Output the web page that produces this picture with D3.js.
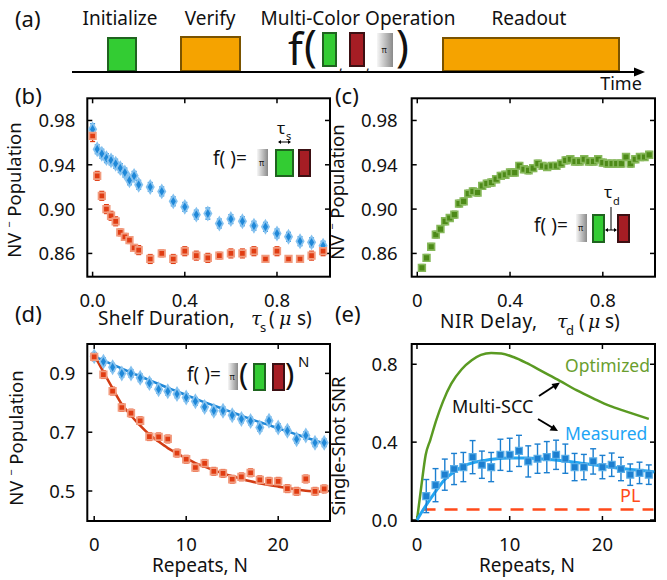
<!DOCTYPE html>
<html lang="en">
<head>
<meta charset="UTF-8">
<title>Multi-color SCC</title>
<script src="https://d3js.org/d3.v7.min.js"></script>
<style>
  body, html { margin: 0; padding: 0; background: #fff; }
  svg text { font-family: "Noto Sans", "Open Sans", sans-serif; fill: #111; }
  svg text .greek { font-family: "DejaVu Serif", "Liberation Serif", serif; font-style: italic; }
</style>
</head>
<body>
<svg id="fig" width="667" height="580"></svg>
<script>
// ---- (b) shelf duration ----
const shelfT = [0, 0.02, 0.04, 0.06, 0.08, 0.10, 0.12, 0.14, 0.16, 0.18, 0.20,
  0.25, 0.30, 0.35, 0.40, 0.45, 0.50, 0.55, 0.60, 0.65, 0.70, 0.75, 0.80, 0.85, 0.90, 0.95, 1.00];
const shelfBlue = [0.972, 0.954, 0.950, 0.946, 0.944, 0.941, 0.937, 0.933, 0.926, 0.930, 0.922,
  0.920, 0.916, 0.907, 0.902, 0.895, 0.896, 0.887, 0.891, 0.889, 0.885, 0.884, 0.878, 0.875, 0.871, 0.870, 0.867];
const shelfBlueErr = [0.005, 0.004, 0.004, 0.004, 0.004, 0.004, 0.004, 0.004, 0.004, 0.004, 0.004,
  0.004, 0.004, 0.004, 0.004, 0.004, 0.005, 0.004, 0.004, 0.004, 0.004, 0.004, 0.004, 0.004, 0.004, 0.004, 0.004];
const shelfRed = [0.966, 0.930, 0.912, 0.900, 0.894, 0.889, 0.879, 0.875, 0.872, 0.865, 0.863,
  0.855, 0.860, 0.855, 0.862, 0.858, 0.856, 0.858, 0.860, 0.860, 0.862, 0.855, 0.862, 0.855, 0.855, 0.858, 0.862];
const shelfRedErr = [0.005, 0.004, 0.004, 0.004, 0.004, 0.004, 0.003, 0.003, 0.003, 0.003, 0.004,
  0.004, 0.003, 0.004, 0.004, 0.004, 0.004, 0.003, 0.004, 0.004, 0.004, 0.003, 0.004, 0.003, 0.003, 0.004, 0.004];

// ---- (c) NIR delay ----
const nirT = [0.02, 0.04, 0.06, 0.08, 0.10, 0.12, 0.14, 0.16, 0.18, 0.20,
  0.22, 0.24, 0.26, 0.28, 0.30, 0.32, 0.34, 0.36, 0.38, 0.40,
  0.42, 0.44, 0.46, 0.48, 0.50, 0.52, 0.54, 0.56, 0.58, 0.60,
  0.62, 0.64, 0.66, 0.68, 0.70, 0.72, 0.74, 0.76, 0.78, 0.80,
  0.82, 0.84, 0.86, 0.88, 0.90, 0.92, 0.94, 0.96, 0.98, 1.00];
const nirPop = [0.847, 0.856, 0.866, 0.877, 0.882, 0.889, 0.892, 0.895, 0.905, 0.907,
  0.914, 0.916, 0.915, 0.921, 0.923, 0.924, 0.927, 0.930, 0.931, 0.933,
  0.933, 0.939, 0.936, 0.935, 0.937, 0.941, 0.939, 0.938, 0.939, 0.939,
  0.941, 0.944, 0.945, 0.943, 0.943, 0.945, 0.943, 0.943, 0.945, 0.942,
  0.941, 0.941, 0.941, 0.941, 0.947, 0.941, 0.945, 0.947, 0.947, 0.949];
const nirErr = 0.003;

// ---- (d) repeats ----
const repN = [0, 1, 2, 3, 4, 5, 6, 7, 8, 9, 10, 11, 12, 13, 14, 15, 16, 17, 18, 19, 20, 21, 22, 23, 24, 25];
const repBlue = [0.958, 0.940, 0.921, 0.900, 0.900, 0.885, 0.867, 0.846, 0.839, 0.830, 0.818, 0.805, 0.786,
  0.773, 0.773, 0.758, 0.745, 0.738, 0.716, 0.739, 0.716, 0.705, 0.676, 0.689, 0.664, 0.664];
const repRed = [0.956, 0.896, 0.840, 0.784, 0.765, 0.739, 0.685, 0.684, 0.677, 0.629, 0.608, 0.580, 0.594,
  0.567, 0.560, 0.540, 0.548, 0.562, 0.538, 0.533, 0.533, 0.508, 0.499, 0.541, 0.499, 0.507];
const repBlueFit = [0.958, 0.944, 0.930, 0.916, 0.903, 0.890, 0.877, 0.864, 0.851, 0.839, 0.826, 0.814, 0.802,
  0.791, 0.779, 0.768, 0.756, 0.745, 0.734, 0.724, 0.713, 0.703, 0.692, 0.682, 0.672, 0.662];
const repRedFit = [0.962, 0.905, 0.849, 0.795, 0.757, 0.722, 0.692, 0.668, 0.646, 0.628, 0.611, 0.595, 0.583,
  0.571, 0.560, 0.550, 0.541, 0.533, 0.526, 0.520, 0.515, 0.510, 0.505, 0.501, 0.499, 0.497];
const repErr = 0.013;

// ---- (e) SNR ----
const snrN = [1, 2, 3, 4, 5, 6, 7, 8, 9, 10, 11, 12, 13, 14, 15, 16, 17, 18, 19, 20, 21, 22, 23, 24, 25];
const snrMeas = [0.123, 0.179, 0.233, 0.262, 0.272, 0.323, 0.284, 0.272, 0.335, 0.335, 0.355, 0.301, 0.315,
  0.323, 0.335, 0.315, 0.272, 0.272, 0.301, 0.272, 0.284, 0.262, 0.233, 0.242, 0.233];
const snrErr = [0.085, 0.085, 0.08, 0.08, 0.075, 0.085, 0.07, 0.075, 0.08, 0.085, 0.08, 0.08, 0.075,
  0.08, 0.075, 0.075, 0.07, 0.065, 0.065, 0.06, 0.06, 0.06, 0.055, 0.055, 0.05];
const snrFitN = [0, 0.8, 1.9, 3, 4.1, 5.1, 6.2, 7.3, 8.4, 10, 11.8, 13.6, 15.4, 17.2, 19, 20.8, 22.6, 25.1, 25.6];
const snrFit = [0, 0.063, 0.14, 0.208, 0.25, 0.279, 0.296, 0.306, 0.313, 0.318, 0.318, 0.313, 0.306, 0.296,
  0.284, 0.272, 0.262, 0.25, 0.247];
const optN = [0, 0.47, 0.94, 1.44, 2.09, 2.8, 3.7, 4.8, 5.9, 6.9, 8.0, 9.1, 10.4, 11.8, 13.6, 15.4, 17.2, 19, 20.8, 22.6, 25.0];
const optSNR = [0, 0.174, 0.335, 0.412, 0.514, 0.608, 0.70, 0.773, 0.82, 0.848, 0.858, 0.855, 0.837, 0.807,
  0.761, 0.715, 0.667, 0.625, 0.586, 0.557, 0.519];
const plN = [0.6, 25.5];
const plSNR = [0.054, 0.054];

const svg = d3.select("#fig");
const defs = svg.append("defs");
const grad = defs.append("linearGradient").attr("id", "piGrad");
grad.append("stop").attr("offset", "0%").attr("stop-color", "#f6f6f6");
grad.append("stop").attr("offset", "100%").attr("stop-color", "#8a8a8a");

const GREEN = "#33cc33", GREEN_S = "#1f641f";
const RED = "#a61d24", RED_S = "#3c1013";
const ORANGE = "#f5a300", ORANGE_S = "#7a5300";

function label(x, y, t, size, anchor) {
  return svg.append("text").attr("x", x).attr("y", y)
    .attr("text-anchor", anchor || "start").style("font-size", size + "px").text(t);
}

function box(g, x, y, w, h, fill, stroke) {
  g.append("rect").attr("x", x).attr("y", y).attr("width", w).attr("height", h)
    .attr("fill", fill).attr("stroke", stroke).attr("stroke-width", 2);
}

function piBox(g, x, y, w, h) {
  g.append("rect").attr("x", x).attr("y", y).attr("width", w).attr("height", h).attr("fill", "url(#piGrad)");
  g.append("text").attr("x", x + w / 2 - 1).attr("y", y + h / 2 + 3).attr("text-anchor", "middle")
    .style("font-size", "8px").text("π");
}

// ---------------- panel (a) ----------------
label(15, 27, "(a)", 22);
label(120, 25, "Initialize", 19, "middle");
label(210, 25, "Verify", 19, "middle");
label(358, 25, "Multi-Color Operation", 19, "middle");
label(529, 25, "Readout", 19, "middle");
box(svg, 108, 38, 28, 33, GREEN, GREEN_S);
box(svg, 181, 37, 59, 34, ORANGE, ORANGE_S);
box(svg, 443, 38, 176, 33, ORANGE, ORANGE_S);
svg.append("line").attr("x1", 72).attr("x2", 636).attr("y1", 72).attr("y2", 72)
  .attr("stroke", "#000").attr("stroke-width", 2.2);
svg.append("path").attr("d", "M634,67.5 L645,72 L634,76.5 Z").attr("fill", "#000");
label(621, 90, "Time", 18, "middle");
label(288, 65, "f", 43);
label(304, 61, "(", 43);
label(396, 61, ")", 43);
box(svg, 323, 33, 13, 33, GREEN, GREEN_S);
box(svg, 350, 33, 14, 33, RED, RED_S);
piBox(svg, 377, 33, 16, 34);
label(339, 70, ",", 14);
label(366, 70, ",", 14);

// ---------------- generic panel ----------------
function panel(o) {
  const x = d3.scaleLinear().domain(o.xd).range([o.l, o.r]);
  const y = d3.scaleLinear().domain(o.yd).range([o.b, o.t]);
  const g = svg.append("g");
  const tk = 5;
  o.xt.forEach(v => {
    g.append("line").attr("x1", x(v)).attr("x2", x(v)).attr("y1", o.b).attr("y2", o.b - tk).attr("stroke", "#000").attr("stroke-width", 1.5);
    g.append("line").attr("x1", x(v)).attr("x2", x(v)).attr("y1", o.t).attr("y2", o.t + tk).attr("stroke", "#000").attr("stroke-width", 1.5);
    g.append("text").attr("x", x(v)).attr("y", o.b + 30).attr("text-anchor", "middle")
      .style("font-size", "18.5px").text(o.xf(v));
  });
  o.yt.forEach(v => {
    g.append("line").attr("x1", o.l).attr("x2", o.l + tk).attr("y1", y(v)).attr("y2", y(v)).attr("stroke", "#000").attr("stroke-width", 1.5);
    g.append("line").attr("x1", o.r).attr("x2", o.r - tk).attr("y1", y(v)).attr("y2", y(v)).attr("stroke", "#000").attr("stroke-width", 1.5);
    g.append("text").attr("x", o.l - o.yg).attr("y", y(v) + 7).attr("text-anchor", "end")
      .style("font-size", "18.5px").text(o.yf(v));
  });
  g.append("rect").attr("x", o.l).attr("y", o.t).attr("width", o.r - o.l).attr("height", o.b - o.t)
    .attr("fill", "none").attr("stroke", "#000").attr("stroke-width", 2);
  const data = svg.append("g");
  return { x, y, g: data };
}

function errorBars(p, xs, ys, errs, color, cap, w) {
  xs.forEach((xv, i) => {
    const e = Array.isArray(errs) ? errs[i] : errs;
    const cx = p.x(xv), y1 = p.y(ys[i] - e), y2 = p.y(ys[i] + e);
    p.g.append("line").attr("x1", cx).attr("x2", cx).attr("y1", y1).attr("y2", y2).attr("stroke", color).attr("stroke-width", w);
    [y1, y2].forEach(yy => p.g.append("line").attr("x1", cx - cap).attr("x2", cx + cap).attr("y1", yy).attr("y2", yy)
      .attr("stroke", color).attr("stroke-width", w));
  });
}

function markers(p, xs, ys, type, size, fill, halo, hw) {
  const sym = d3.symbol().type(type).size(size);
  xs.forEach((xv, i) => {
    p.g.append("path").attr("d", sym()).attr("transform", `translate(${p.x(xv)},${p.y(ys[i])})`)
      .attr("fill", fill).attr("stroke", halo).attr("stroke-width", hw);
  });
}

function line(p, xs, ys, color, w, curve, dash) {
  const gen = d3.line().x(d => p.x(d[0])).y(d => p.y(d[1])).curve(curve || d3.curveMonotoneX);
  const path = p.g.append("path").attr("d", gen(xs.map((v, i) => [v, ys[i]])))
    .attr("fill", "none").attr("stroke", color).attr("stroke-width", w);
  if (dash) path.attr("stroke-dasharray", dash);
  return path;
}

function yTitle(cx, cy, parts) {
  const t = svg.append("text").attr("transform", `translate(${cx},${cy}) rotate(-90)`)
    .attr("text-anchor", "middle").style("font-size", "18.5px");
  parts(t);
}
function nvTitle(t) {
  t.append("tspan").text("NV ");
  t.append("tspan").attr("dy", -8).style("font-size", "11px").text("−");
  t.append("tspan").attr("dy", 8).text(" Population");
}

const BLUE = "#1f88d8", BLUE_H = "#86c2ef";
const ORED = "#e03c12", ORED_H = "#f29b7e";
const OLIVE = "#4d8a18", OLIVE_H = "#86b85a";

// ---------------- panel (b) ----------------
const pb = panel({ l: 87.3, r: 330, t: 98.3, b: 276.7, xd: [-0.023, 1.03], yd: [0.839, 1.0],
  xt: [0, 0.4, 0.8], xf: d3.format(".1f"), yt: [0.86, 0.90, 0.94, 0.98], yf: d3.format(".2f"), yg: 12 });
errorBars(pb, shelfT, shelfBlue, shelfBlueErr, BLUE, 2.5, 1.3);
errorBars(pb, shelfT, shelfRed, shelfRedErr, ORED, 2.5, 1.3);
markers(pb, shelfT, shelfBlue, d3.symbolDiamond, 44, BLUE, BLUE_H, 1.8);
markers(pb, shelfT, shelfRed, d3.symbolSquare, 42, ORED, ORED_H, 1.8);
label(15, 104, "(b)", 22);
yTitle(21, 190, nvTitle);
{
  label(98, 325, "Shelf Duration,", 19).style("letter-spacing", "0.25px");
  const g = svg.append("text").attr("y", 325).style("font-size", "19px");
  g.append("tspan").attr("class", "greek").attr("x", 251).text("τ");
  g.append("tspan").attr("x", 260).attr("dy", 7).style("font-size", "13px").text("s");
  g.append("tspan").attr("x", 269).attr("dy", -7).text("(");
  g.append("tspan").attr("class", "greek").attr("x", 279).text("μ");
  g.append("tspan").attr("x", 297).text("s)");
}
// inset (b)
label(213, 165, "f( )=", 19);
piBox(svg, 257, 149, 11, 27);
box(svg, 276, 150, 17, 26, GREEN, GREEN_S);
box(svg, 299, 150, 11, 26, RED, RED_S);
label(277, 134, "τ", 17);
label(286, 140, "s", 11);
svg.append("line").attr("x1", 279).attr("x2", 290).attr("y1", 142).attr("y2", 142).attr("stroke", "#000").attr("stroke-width", 1);
svg.append("path").attr("d", "M278,142 l3,-2 v4 Z M291,142 l-3,-2 v4 Z").attr("fill", "#000");

// ---------------- panel (c) ----------------
const pc = panel({ l: 411.7, r: 655, t: 98.3, b: 276.7, xd: [-0.024, 1.025], yd: [0.839, 1.0],
  xt: [0, 0.4, 0.8], xf: v => v === 0 ? "0" : d3.format(".1f")(v), yt: [0.86, 0.90, 0.94, 0.98], yf: d3.format(".2f"), yg: 14 });
errorBars(pc, nirT, nirPop, nirErr, OLIVE, 2.5, 1.3);
markers(pc, nirT, nirPop, d3.symbolSquare, 46, OLIVE, OLIVE_H, 1.6);
label(335, 104, "(c)", 22);
yTitle(344, 192, nvTitle);
{
  label(440, 328, "NIR Delay,", 19).style("letter-spacing", "0.6px");
  const g = svg.append("text").attr("y", 328).style("font-size", "19px");
  g.append("tspan").attr("class", "greek").attr("x", 557).text("τ");
  g.append("tspan").attr("x", 566).attr("dy", 7).style("font-size", "13px").text("d");
  g.append("tspan").attr("x", 579).attr("dy", -7).text("(");
  g.append("tspan").attr("class", "greek").attr("x", 588).text("μ");
  g.append("tspan").attr("x", 605).text("s)");
}
// inset (c)
label(534, 232, "f( )=", 19);
piBox(svg, 576, 214, 11, 28);
box(svg, 593, 215, 11, 27, GREEN, GREEN_S);
box(svg, 618, 215, 11, 27, RED, RED_S);
label(604, 198, "τ", 17);
label(613, 205, "d", 11);
svg.append("line").attr("x1", 611).attr("x2", 611).attr("y1", 207).attr("y2", 230).attr("stroke", "#000").attr("stroke-width", 1);
svg.append("line").attr("x1", 606).attr("x2", 616).attr("y1", 230).attr("y2", 230).attr("stroke", "#000").attr("stroke-width", 1);
svg.append("path").attr("d", "M605,230 l3,-2 v4 Z M617,230 l-3,-2 v4 Z").attr("fill", "#000");

// ---------------- panel (d) ----------------
const pd = panel({ l: 87.3, r: 330, t: 344, b: 521, xd: [-0.75, 25.63], yd: [0.398, 1.0],
  xt: [0, 10, 20], xf: d3.format("d"), yt: [0.5, 0.7, 0.9], yf: d3.format(".1f"), yg: 12 });
line(pd, repN, repBlueFit, BLUE, 2.5);
line(pd, repN, repRedFit, "#d23c14", 2.5);
errorBars(pd, repN, repBlue, repErr, BLUE, 2.5, 1.3);
errorBars(pd, repN, repRed, repErr, ORED, 2.5, 1.3);
markers(pd, repN, repBlue, d3.symbolDiamond, 44, BLUE, BLUE_H, 1.8);
markers(pd, repN, repRed, d3.symbolSquare, 42, ORED, ORED_H, 1.8);
label(15, 322, "(d)", 22);
yTitle(23, 438, nvTitle);
label(200, 572, "Repeats, N", 19, "middle");
// inset (d)
label(187, 381, "f( )=", 19);
piBox(svg, 228, 363, 10, 27);
label(239, 385, "(", 31);
box(svg, 254, 364, 11, 26, GREEN, GREEN_S);
box(svg, 273, 364, 11, 26, RED, RED_S);
label(285, 385, ")", 31);
label(298, 367, "N", 15);

// ---------------- panel (e) ----------------
const pe = panel({ l: 411.7, r: 655, t: 344, b: 521, xd: [-0.57, 25.67], yd: [-0.005, 0.904],
  xt: [0, 10, 20], xf: d3.format("d"), yt: [0, 0.4, 0.8], yf: d3.format(".1f"), yg: 14 });
line(pe, optN, optSNR, "#5a9a22", 2.5);
line(pe, plN, plSNR, "#ff4a1a", 2.5, d3.curveLinear, "13,9");
line(pe, snrFitN, snrFit, "#22a6f2", 3);
errorBars(pe, snrN, snrMeas, snrErr, "#1c7fd0", 3, 1.4);
markers(pe, snrN, snrMeas, d3.symbolSquare, 48, "#1c7fd0", "#5aaee8", 1.2);
label(335, 322, "(e)", 22);
yTitle(345, 446, t => t.text("Single-Shot SNR"));
label(527, 572, "Repeats, N", 19, "middle");
label(565, 372, "Optimized", 17.5).style("fill", "#6a9e2e");
label(565, 440, "Measured", 17.5).style("fill", "#1ea5f5");
label(620, 502, "PL", 18).style("fill", "#ff4a1a");
label(452, 413, "Multi-SCC", 18);
svg.append("line").attr("x1", 539).attr("y1", 396).attr("x2", 555).attr("y2", 385.5).attr("stroke", "#000").attr("stroke-width", 2);
svg.append("path").attr("d", "M560,382.5 L551.5,384 L555.5,390 Z").attr("fill", "#000");
svg.append("line").attr("x1", 538).attr("y1", 419).attr("x2", 553).attr("y2", 428).attr("stroke", "#000").attr("stroke-width", 2);
svg.append("path").attr("d", "M558,431 L549.5,430.5 L553.5,424.5 Z").attr("fill", "#000");
</script>
</body>
</html>
